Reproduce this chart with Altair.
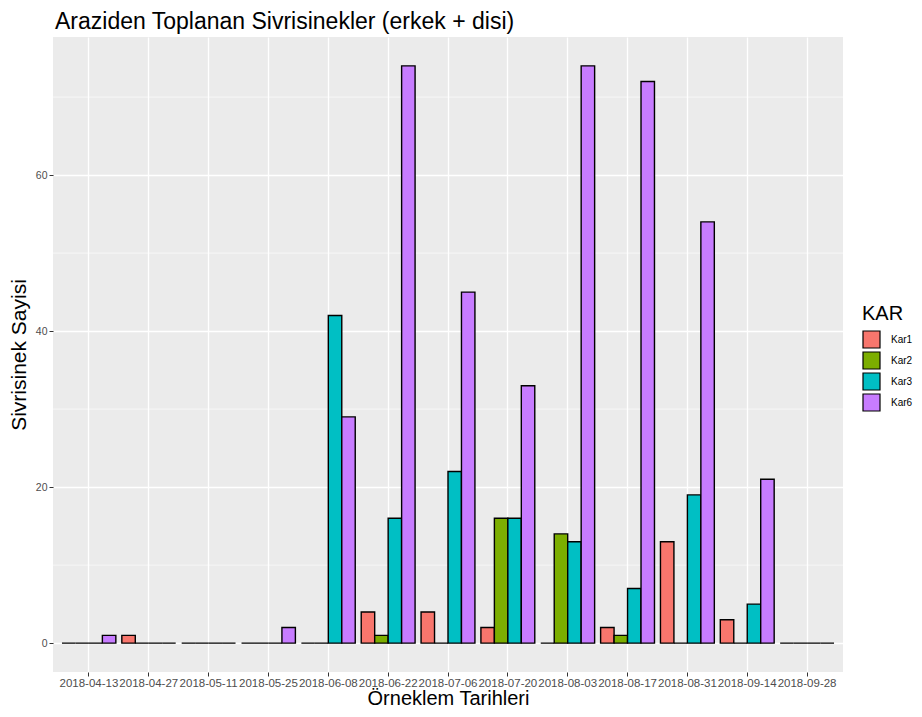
import altair as alt
import pandas as pd

dates = ["2018-04-13", "2018-04-27", "2018-05-11", "2018-05-25", "2018-06-08",
         "2018-06-22", "2018-07-06", "2018-07-20", "2018-08-03", "2018-08-17",
         "2018-08-31", "2018-09-14", "2018-09-28"]
kars = ["Kar1", "Kar2", "Kar3", "Kar6"]
kar1 = [0, 1, 0, 0, 0, 4, 4, 2, 0, 2, 13, 3, 0]
kar2 = [0, 0, 0, 0, 0, 1, 0, 16, 14, 1, 0, 0, 0]
kar3 = [0, 0, 0, 0, 42, 16, 22, 16, 13, 7, 19, 5, 0]
kar6 = [1, 0, 0, 2, 29, 74, 45, 33, 74, 72, 54, 21, 0]
colors = ["#F8766D", "#7CAE00", "#00BFC4", "#C77CFF"]
y_ticks = [0, 20, 40, 60]
y_minor = [10, 30, 50, 70]

rows = []
for k, vals in zip(kars, [kar1, kar2, kar3, kar6]):
    for d, v in zip(dates, vals):
        rows.append({"date": d, "KAR": k, "value": v})
df = pd.DataFrame(rows)
minor_df = pd.DataFrame({"value": y_minor})

FONT = "Liberation Sans"
yscale = alt.Scale(domain=[-3.7, 77.7], nice=False, zero=False)
yaxis = alt.Axis(title="Sivrisinek Sayisi", values=y_ticks, titlePadding=6,
                 labelFontSize=10.5)

minor = alt.Chart(minor_df).mark_rule(color="white", strokeWidth=0.6).encode(
    y=alt.Y("value:Q", scale=yscale, axis=yaxis)
)

bars = alt.Chart(df).mark_bar(stroke="black", strokeWidth=1.4).encode(
    x=alt.X("date:N", sort=dates,
            scale=alt.Scale(paddingInner=0.1, paddingOuter=0.15),
            axis=alt.Axis(title="Örneklem Tarihleri", labelAngle=0,
                          bandPosition=0.5, labelOverlap=False,
                          labelFontSize=11.5, labelPadding=1,
                          titlePadding=0, titleFontSize=20)),
    xOffset=alt.XOffset("KAR:N", sort=kars,
                        scale=alt.Scale(paddingInner=0, paddingOuter=0)),
    y=alt.Y("value:Q", scale=yscale, axis=yaxis),
    y2=alt.datum(0),
    fill=alt.Fill("KAR:N", sort=kars,
                  scale=alt.Scale(domain=kars, range=colors),
                  legend=alt.Legend(title="KAR", orient="none",
                                    legendX=809, legendY=267)),
)

chart = alt.layer(minor, bars).properties(
    width=790, height=635,
    autosize=alt.AutoSizeParams(type="none"),
    padding={"left": 45, "top": 29, "right": 71, "bottom": 37},
    title=alt.TitleParams("Araziden Toplanan Sivrisinekler (erkek + disi)",
                          anchor="start", frame="group", fontSize=23,
                          font=FONT, fontWeight="normal", color="black",
                          offset=3, dx=2),
).configure(
    font=FONT,
).configure_view(
    fill="#EBEBEB", stroke=None,
).configure_axis(
    domain=False, grid=True, gridColor="white", gridWidth=1.3,
    tickColor="#333333", tickSize=4, tickWidth=1,
    labelColor="#4D4D4D", labelFont=FONT, labelFontSize=11, labelPadding=2,
    titleFont=FONT, titleFontSize=21, titleFontWeight="normal",
    titleColor="black",
).configure_legend(
    titleFont=FONT, titleFontSize=20, titleFontWeight="normal",
    titleColor="black", titlePadding=6,
    labelFont=FONT, labelFontSize=10, labelColor="black",
    symbolType="square", symbolSize=289, symbolStrokeColor="black",
    symbolStrokeWidth=1.2, rowPadding=-3.5, labelOffset=10,
)

chart.save("out.html", embed_options={"renderer": "svg", "actions": False})
